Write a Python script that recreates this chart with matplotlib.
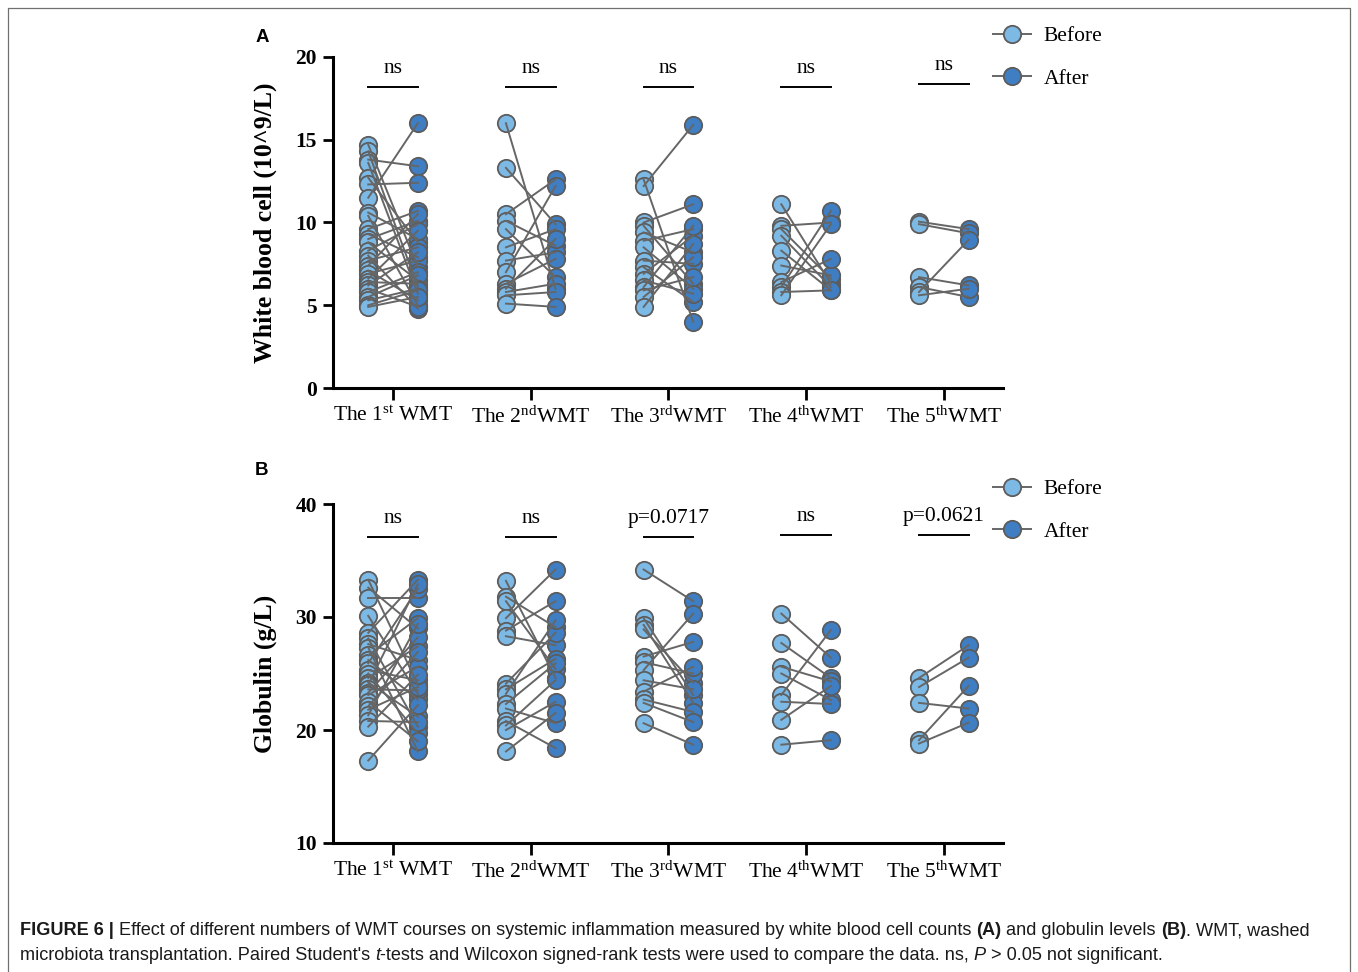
import matplotlib
matplotlib.use('Agg')
import matplotlib.pyplot as plt
from matplotlib.lines import Line2D

plt.rcParams['font.family'] = 'Liberation Serif'
plt.rcParams['mathtext.fontset'] = 'custom'
plt.rcParams['mathtext.rm'] = 'Liberation Serif'
plt.rcParams['mathtext.it'] = 'Liberation Serif:italic'
plt.rcParams['mathtext.bf'] = 'Liberation Serif:bold'

# categories / tick labels
tick_labels = [r'The 1$^{\mathrm{st}}$ WMT', r'The 2$^{\mathrm{nd}}$WMT', r'The 3$^{\mathrm{rd}}$WMT',
               r'The 4$^{\mathrm{th}}$WMT', r'The 5$^{\mathrm{th}}$WMT']

# white blood cell (10^9/L), paired before / after per course
wbc_before = [
    [14.7, 14.3, 13.8, 13.6, 12.7, 12.3, 11.5, 10.6, 10.4, 9.6, 9.3, 9.0, 8.8, 8.3,
     8.0, 7.7, 7.4, 7.1, 6.9, 6.6, 6.4, 6.2, 6.0, 5.8, 5.5, 5.3, 5.0, 4.9],
    [16.0, 13.3, 10.5, 10.1, 9.6, 8.5, 7.7, 7.0, 6.3, 6.0, 5.8, 5.6, 5.1],
    [12.6, 12.2, 10.0, 9.8, 9.4, 8.9, 8.5, 7.7, 7.3, 6.9, 6.5, 6.1, 5.9, 5.5, 4.9],
    [11.1, 9.8, 9.6, 9.2, 8.3, 7.4, 6.4, 6.1, 5.8, 5.6],
    [10.05, 9.9, 6.7, 6.1, 5.8, 5.6],
]
wbc_after = [
    [7.3, 6.1, 13.4, 5.7, 8.8, 12.4, 16.0, 9.0, 5.0, 10.7, 7.9, 10.1, 6.5, 9.9,
     4.8, 8.5, 10.5, 5.3, 7.7, 9.5, 6.3, 8.2, 4.9, 7.0, 6.8, 6.0, 5.9, 5.5],
    [6.0, 9.9, 12.6, 8.6, 6.7, 9.6, 8.2, 12.2, 7.8, 9.0, 6.3, 5.8, 4.9],
    [4.0, 15.9, 11.1, 6.3, 8.2, 9.6, 6.0, 7.5, 5.2, 9.2, 5.7, 9.8, 6.7, 7.9, 8.7],
    [6.3, 10.0, 6.6, 6.1, 5.9, 6.8, 7.8, 10.7, 5.9, 9.9],
    [9.6, 9.35, 6.2, 5.5, 8.95, 6.0],
]
wbc_marks = ['ns', 'ns', 'ns', 'ns', 'ns']

# globulin (g/L), paired before / after per course
glob_before = [
    [33.3, 32.6, 31.7, 30.1, 28.6, 28.1, 27.6, 27.3, 26.6, 26.2, 25.9, 25.3, 25.0,
     24.6, 24.2, 24.0, 23.6, 23.3, 23.1, 22.5, 22.1, 21.8, 21.3, 20.8, 20.3, 17.3],
    [33.2, 31.8, 31.4, 29.9, 28.8, 28.3, 24.1, 23.6, 23.2, 22.3, 21.9, 20.8, 20.4, 20.0, 18.1],
    [34.2, 29.9, 29.3, 28.9, 26.5, 26.0, 25.3, 24.4, 23.4, 22.7, 22.4, 20.6],
    [30.3, 27.7, 25.6, 25.0, 23.1, 22.5, 20.9, 18.7],
    [24.6, 23.8, 22.4, 19.1, 18.8],
]
glob_after = [
    [24.0, 29.0, 31.7, 23.2, 33.3, 20.3, 26.2, 18.1, 29.9, 22.7, 32.5, 24.4, 19.7,
     27.4, 21.2, 32.9, 23.5, 28.2, 25.6, 19.0, 26.9, 23.8, 29.4, 20.7, 24.9, 22.2],
    [24.6, 29.1, 25.4, 34.2, 31.4, 27.5, 28.6, 26.3, 29.7, 25.9, 20.6, 18.4, 24.4, 22.5, 21.5],
    [31.4, 23.1, 22.4, 24.2, 27.8, 25.0, 30.3, 23.6, 25.6, 21.6, 20.7, 18.7],
    [26.4, 24.6, 24.3, 22.65, 28.85, 22.3, 23.9, 19.1],
    [27.5, 26.4, 21.9, 23.9, 20.65],
]
glob_marks = ['ns', 'ns', 'p=0.0717', 'ns', 'p=0.0621']

c_before = '#7db9e5'
c_after = '#3f7ec2'
c_edge = '#5c5c5c'
c_line = '#666666'
dx = 0.18


def draw_panel(ax, before, after, marks, ylim, yticks, ylabel, text_y, line_y):
    for i, (b, a) in enumerate(zip(before, after)):
        ax.plot([i - dx] * len(b), b, 'o', ms=12.5, mfc=c_before, mec=c_edge, mew=1.3,
                ls='none', zorder=2, clip_on=False)
        ax.plot([i + dx] * len(a), a, 'o', ms=12.5, mfc=c_after, mec=c_edge, mew=1.3,
                ls='none', zorder=2, clip_on=False)
        for vb, va in zip(b, a):
            ax.plot([i - dx, i + dx], [vb, va], color=c_line, lw=1.4, zorder=3)
        ax.plot([i - dx, i + dx], [line_y[i], line_y[i]], color='black', lw=1.4)
        ax.text(i, text_y[i], marks[i], ha='center', va='baseline', fontsize=15.5)
    ax.set_xlim(-0.436, 4.43)
    ax.set_ylim(*ylim)
    ax.set_yticks(yticks)
    ax.set_xticks(range(5))
    ax.set_xticklabels(tick_labels, fontsize=15.5)
    for lbl in ax.get_yticklabels():
        lbl.set_fontweight('bold')
        lbl.set_fontsize(15.5)
    ax.tick_params(direction='out', length=7.5, width=2, pad=4)
    ax.tick_params(axis='x', length=8.5, pad=5)
    for s in ['top', 'right']:
        ax.spines[s].set_visible(False)
    for s in ['left', 'bottom']:
        ax.spines[s].set_linewidth(2.2)
    ax.set_ylabel(ylabel, fontsize=18.5, fontweight='bold', labelpad=13)
    handles = [Line2D([], [], color=c_line, lw=1.4, marker='o', ms=12.5, mfc=c_before, mec=c_edge, mew=1.3),
               Line2D([], [], color=c_line, lw=1.4, marker='o', ms=12.5, mfc=c_after, mec=c_edge, mew=1.3)]
    return handles


fig = plt.figure(figsize=(13.58, 9.72), dpi=100)
W, H = 1358, 972

axA = fig.add_axes([333 / W, 1 - 388 / H, 670 / W, 331 / H])
axB = fig.add_axes([333 / W, 1 - 843 / H, 670 / W, 339 / H])

hA = draw_panel(axA, wbc_before, wbc_after, wbc_marks, (0, 20), [0, 5, 10, 15, 20],
                'White blood cell (10^9/L)', [19.05] * 4 + [19.2], [18.2] * 4 + [18.37])
hB = draw_panel(axB, glob_before, glob_after, glob_marks, (10, 40), [10, 20, 30, 40],
                'Globulin (g/L)', [38.35, 38.35, 38.35, 38.5, 38.5], [37.05, 37.05, 37.05, 37.26, 37.3])

for h, ytop in [(hA, 26), (hB, 479)]:
    fig.legend(h, ['Before', 'After'], loc='upper left', bbox_to_anchor=(993 / W, 1 - ytop / H),
               frameon=False, fontsize=15.5, handlelength=1.75, handletextpad=0.6,
               labelspacing=1.05, borderpad=0, borderaxespad=0)

# panel letters
fig.text(262 / W, 1 - 37 / H, 'A', fontsize=13.5, fontweight='bold', family='Liberation Sans',
         ha='center', va='center')
fig.text(262 / W, 1 - 470 / H, 'B', fontsize=13.5, fontweight='bold', family='Liberation Sans',
         ha='center', va='center')

# frame around the figure (open at the bottom)
fig.add_artist(Line2D([8 / W, 8 / W, 1350 / W, 1350 / W], [0, 1 - 8 / H, 1 - 8 / H, 0],
                      transform=fig.transFigure, color='#707070', lw=0.9))

# caption built from styled runs
fig.canvas.draw()
renderer = fig.canvas.get_renderer()


def space_width(fs):
    t1 = fig.text(0, 0, 'a a', fontsize=fs, family='Liberation Sans')
    t2 = fig.text(0, 0, 'aa', fontsize=fs, family='Liberation Sans')
    w = t1.get_window_extent(renderer).width - t2.get_window_extent(renderer).width
    t1.remove()
    t2.remove()
    return w


def runs_line(runs, x0, y0, fs=13.1):
    sp = space_width(fs)
    x = x0
    for txt, weight, style, gap in runs:
        if gap:
            x += sp
        t = fig.text(x / W, 1 - y0 / H, txt, fontsize=fs, family='Liberation Sans',
                     fontweight=weight, fontstyle=style, va='baseline', ha='left', color='#1a1a1a')
        x += t.get_window_extent(renderer).width


runs_line([('FIGURE 6 |', 'bold', 'normal', False),
           ('Effect of different numbers of WMT courses on systemic inflammation measured by white blood cell counts',
            'normal', 'normal', True),
           ('(A)', 'bold', 'normal', True),
           ('and globulin levels', 'normal', 'normal', True),
           ('(B)', 'bold', 'normal', True),
           ('. WMT, washed', 'normal', 'normal', False)], 20, 935)
runs_line([("microbiota transplantation. Paired Student's", 'normal', 'normal', False),
           ('t', 'normal', 'italic', True),
           ('-tests and Wilcoxon signed-rank tests were used to compare the data. ns,', 'normal', 'normal', False),
           ('P', 'normal', 'italic', True),
           ('> 0.05 not significant.', 'normal', 'normal', True)], 20, 960)

fig.savefig('out.png', dpi=100)
